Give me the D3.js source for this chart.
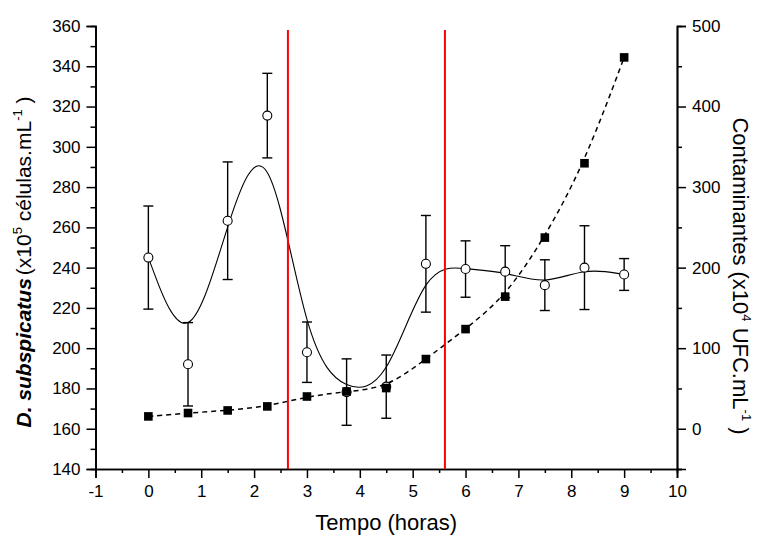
<!DOCTYPE html>
<html>
<head>
<meta charset="utf-8">
<script src="https://cdn.jsdelivr.net/npm/d3@7/dist/d3.min.js"></script>
<style>
  html, body { margin: 0; padding: 0; background: #fff; }
  svg { display: block; }
  text { font-family: "Liberation Sans", Arial, sans-serif; fill: #000; }
</style>
</head>
<body>
<svg id="chart" width="757" height="536"></svg>
<script>
// Sampling times (hours)
const times = [0, 0.75, 1.5, 2.25, 3, 3.75, 4.5, 5.25, 6, 6.75, 7.5, 8.25, 9];
// D. subspicatus density (x10^5 cells/mL) and its standard deviation
const cells = [245, 192, 263.3, 315.5, 198, 178.2, 180.9, 241.9, 239.3, 238, 231.3, 240, 236.6];
const cellErr = [25.6, 20.7, 29.2, 21, 15, 16.5, 15.7, 24, 14, 12.9, 12.6, 20.8, 7.9];
// Contaminants (x10^4 CFU/mL)
const contam = [15.3, 19.5, 22.7, 27.7, 40, 46.3, 50.5, 86.5, 123.7, 164, 237.3, 329.6, 461];
// Phase boundaries (hours)
const phaseLines = [2.64, 5.61];

// Axis ticks
const xTicks = [-1, 0, 1, 2, 3, 4, 5, 6, 7, 8, 9, 10];
const xMinor = [-0.5, 0.5, 1.5, 2.5, 3.5, 4.5, 5.5, 6.5, 7.5, 8.5, 9.5];
const yLeftTicks = [140, 160, 180, 200, 220, 240, 260, 280, 300, 320, 340, 360];
const yLeftMinor = [150, 170, 190, 210, 230, 250, 270, 290, 310, 330, 350];
const yRightTicks = [0, 100, 200, 300, 400, 500];
const yRightMinor = [-50, 50, 150, 250, 350, 450];

const W = 757, H = 536;
const m = { left: 95.5, right: 80, top: 26, bottom: 67 };
const svg = d3.select("#chart");

const x = d3.scaleLinear().domain([-1, 10]).range([m.left, W - m.right]);
const yL = d3.scaleLinear().domain([140, 360]).range([H - m.bottom, m.top]);
const yR = d3.scaleLinear().domain([-50, 500]).range([H - m.bottom, m.top]);

// plain hyphen for negative labels
const fmt = d => String(d);
const tickFont = "17px";
const titleFont = "22px";

function styleAxis(g) {
  g.select(".domain").attr("stroke", "#000").attr("stroke-width", 1.7);
  g.selectAll(".tick line").attr("stroke", "#000").attr("stroke-width", 1.5);
  g.selectAll(".tick text").style("font-size", tickFont)
    .style("font-family", '"Liberation Sans", Arial, sans-serif');
}

// Minor ticks
svg.append("g").attr("transform", `translate(0,${H - m.bottom})`)
  .call(d3.axisBottom(x).tickValues(xMinor).tickSize(4).tickFormat(""))
  .call(styleAxis);
svg.append("g").attr("transform", `translate(${m.left},0)`)
  .call(d3.axisLeft(yL).tickValues(yLeftMinor).tickSize(5).tickFormat(""))
  .call(styleAxis);
svg.append("g").attr("transform", `translate(${W - m.right},0)`)
  .call(d3.axisRight(yR).tickValues(yRightMinor).tickSize(5).tickFormat(""))
  .call(styleAxis);

// Major axes
svg.append("g").attr("transform", `translate(0,${H - m.bottom})`)
  .call(d3.axisBottom(x).tickValues(xTicks).tickSize(9).tickPadding(7).tickFormat(fmt))
  .call(styleAxis);
svg.append("g").attr("transform", `translate(${m.left},0)`)
  .call(d3.axisLeft(yL).tickValues(yLeftTicks).tickSize(9).tickPadding(6).tickFormat(fmt))
  .call(styleAxis);
svg.append("g").attr("transform", `translate(${W - m.right},0)`)
  .call(d3.axisRight(yR).tickValues(yRightTicks).tickSize(9).tickPadding(6).tickFormat(fmt))
  .call(styleAxis);

// Smoothed curves (B-spline through the measured points)
const cellPts = times.map((t, i) => [t, cells[i]]);
const contamPts = times.map((t, i) => [t, contam[i]]);

svg.append("path")
  .datum(cellPts)
  .attr("fill", "none").attr("stroke", "#000").attr("stroke-width", 1.1)
  .attr("d", d3.line().x(d => x(d[0])).y(d => yL(d[1])).curve(d3.curveBasis));

svg.append("path")
  .datum(contamPts)
  .attr("fill", "none").attr("stroke", "#000").attr("stroke-width", 1.5)
  .attr("stroke-dasharray", "5,4")
  .attr("d", d3.line().x(d => x(d[0])).y(d => yR(d[1])).curve(d3.curveBasis));

// Phase boundaries
svg.append("g").selectAll("line").data(phaseLines).join("line")
  .attr("x1", d => x(d)).attr("x2", d => x(d))
  .attr("y1", yL(140)).attr("y2", yL(358))
  .attr("stroke", "#ff0000").attr("stroke-width", 2);

// Error bars
const eb = svg.append("g").attr("stroke", "#000").attr("stroke-width", 1.4);
times.forEach((t, i) => {
  const cx = x(t), lo = yL(cells[i] - cellErr[i]), hi = yL(cells[i] + cellErr[i]);
  eb.append("line").attr("x1", cx).attr("x2", cx).attr("y1", lo).attr("y2", hi);
  eb.append("line").attr("x1", cx - 5).attr("x2", cx + 5).attr("y1", lo).attr("y2", lo);
  eb.append("line").attr("x1", cx - 5).attr("x2", cx + 5).attr("y1", hi).attr("y2", hi);
});

// Open circles: cell density
svg.append("g").selectAll("circle").data(cellPts).join("circle")
  .attr("cx", d => x(d[0])).attr("cy", d => yL(d[1])).attr("r", 4.5)
  .attr("fill", "#fff").attr("stroke", "#000").attr("stroke-width", 1.1);

// Filled squares: contaminants
const sq = 8.6;
svg.append("g").selectAll("rect").data(contamPts).join("rect")
  .attr("x", d => x(d[0]) - sq / 2).attr("y", d => yR(d[1]) - sq / 2)
  .attr("width", sq).attr("height", sq).attr("fill", "#000");

// Axis titles
svg.append("text")
  .attr("x", x(4.5)).attr("y", 530)
  .attr("text-anchor", "middle").style("font-size", titleFont)
  .text("Tempo (horas)");

const lt = svg.append("text")
  .attr("transform", "translate(31,262) rotate(-90)")
  .attr("text-anchor", "middle").style("font-size", "21px");
lt.append("tspan").style("font-weight", "bold").style("font-style", "italic").text("D. subspicatus");
lt.append("tspan").attr("dx", 3).text("(x10");
lt.append("tspan").attr("dy", -9).style("font-size", "13px").text("5");
lt.append("tspan").attr("dy", 9).text(" células.mL");
lt.append("tspan").attr("dy", -9).style("font-size", "13px").text("-1");
lt.append("tspan").attr("dy", 9).text(" )");

const rt = svg.append("text")
  .attr("transform", "translate(733,276) rotate(90)")
  .attr("text-anchor", "middle").style("font-size", titleFont);
rt.append("tspan").text("Contaminantes (x10");
rt.append("tspan").attr("dy", -9).style("font-size", "13px").text("4");
rt.append("tspan").attr("dy", 9).text(" UFC.mL");
rt.append("tspan").attr("dy", -9).style("font-size", "13px").text("-1");
rt.append("tspan").attr("dy", 9).text(" )");
</script>
</body>
</html>
